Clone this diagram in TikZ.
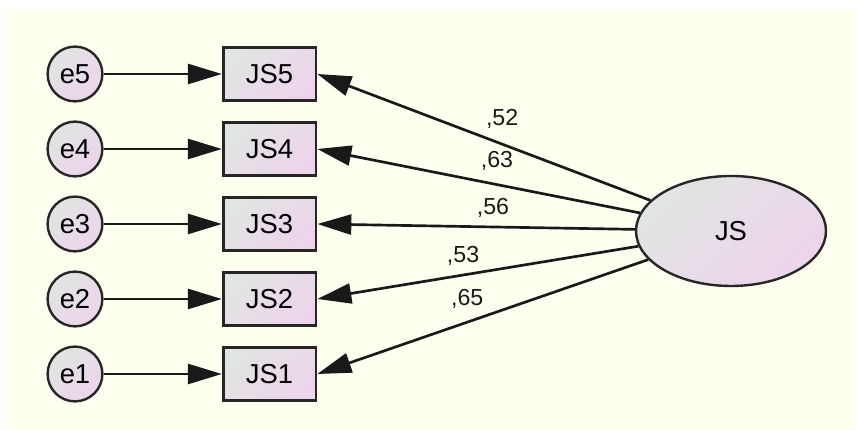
\documentclass[tikz,border=0pt]{standalone}
\usepackage{fontspec}
\setmainfont{Liberation Sans}
\usetikzlibrary{arrows.meta,shapes.geometric}
\definecolor{jsback}{RGB}{255,255,240}
\definecolor{jsgray}{RGB}{224,229,226}
\definecolor{jspink}{RGB}{237,212,235}
\tikzset{
	errnode/.style={circle, draw=black!85, line width=1.7pt, minimum size=1.37cm, inner sep=0pt,
		left color=jsgray, right color=jspink, shading angle=45, font=\fontsize{19.5}{22}\selectfont},
	itembox/.style={rectangle, draw=black!85, line width=1.9pt, minimum width=2.32cm, minimum height=1.32cm,
		left color=jsgray, right color=jspink, shading angle=45, font=\fontsize{19.5}{22}\selectfont},
	latent/.style={ellipse, draw=black!85, line width=1.7pt, minimum width=4.75cm, minimum height=2.75cm,
		left color=jsgray, right color=jspink, shading angle=45, font=\fontsize{19.5}{22}\selectfont},
	load/.style={line width=1.9pt, black!90, -{Triangle[length=0.85cm,width=0.5cm]}},
	weight/.style={font=\fontsize{16.5}{19}\selectfont, inner sep=1pt}
}

\begin{document}
\begin{tikzpicture}
	%%%%% BACKGROUND %%%%%
	\useasboundingbox (0, 0) rectangle (21.45, 10.75);
	\fill[jsback] (0.175, 0) rectangle (21.4, 10.525);
	
	%%%%% ERRORS %%%%%
	\node[errnode] (e5) at (1.875, 8.9) {e5};
	\node[errnode] (e4) at (1.875, 7.025) {e4};
	\node[errnode] (e3) at (1.875, 5.15) {e3};
	\node[errnode] (e2) at (1.875, 3.275) {e2};
	\node[errnode] (e1) at (1.875, 1.4) {e1};
	
	%%%%% ITEMS %%%%%
	\node[itembox] (JS5) at (6.74, 8.9) {JS5};
	\node[itembox] (JS4) at (6.74, 7.025) {JS4};
	\node[itembox] (JS3) at (6.74, 5.15) {JS3};
	\node[itembox] (JS2) at (6.74, 3.275) {JS2};
	\node[itembox] (JS1) at (6.74, 1.4) {JS1};
	
	%%%%% FACTOR %%%%%
	\node[latent] (JS) at (18.275, 4.975) {JS};
	
	\draw[load] (e5) -- (JS5);
	\draw[load] (e4) -- (JS4);
	\draw[load] (e3) -- (JS3);
	\draw[load] (e2) -- (JS2);
	\draw[load] (e1) -- (JS1);
	
	\draw[load] (JS) -- node[weight, pos=0.445, above=9pt] {,52} (JS5.east);
	\draw[load] (JS) -- node[weight, pos=0.443, above=8pt] {,63} (JS4.east);
	\draw[load] (JS) -- node[weight, pos=0.447, above=5pt] {,56} (JS3.east);
	\draw[load] (JS) -- node[weight, pos=0.546, above=5pt] {,53} (JS2.east);
	\draw[load] (JS) -- node[weight, pos=0.547, above=8pt] {,65} (JS1.east);
\end{tikzpicture}
\end{document}
